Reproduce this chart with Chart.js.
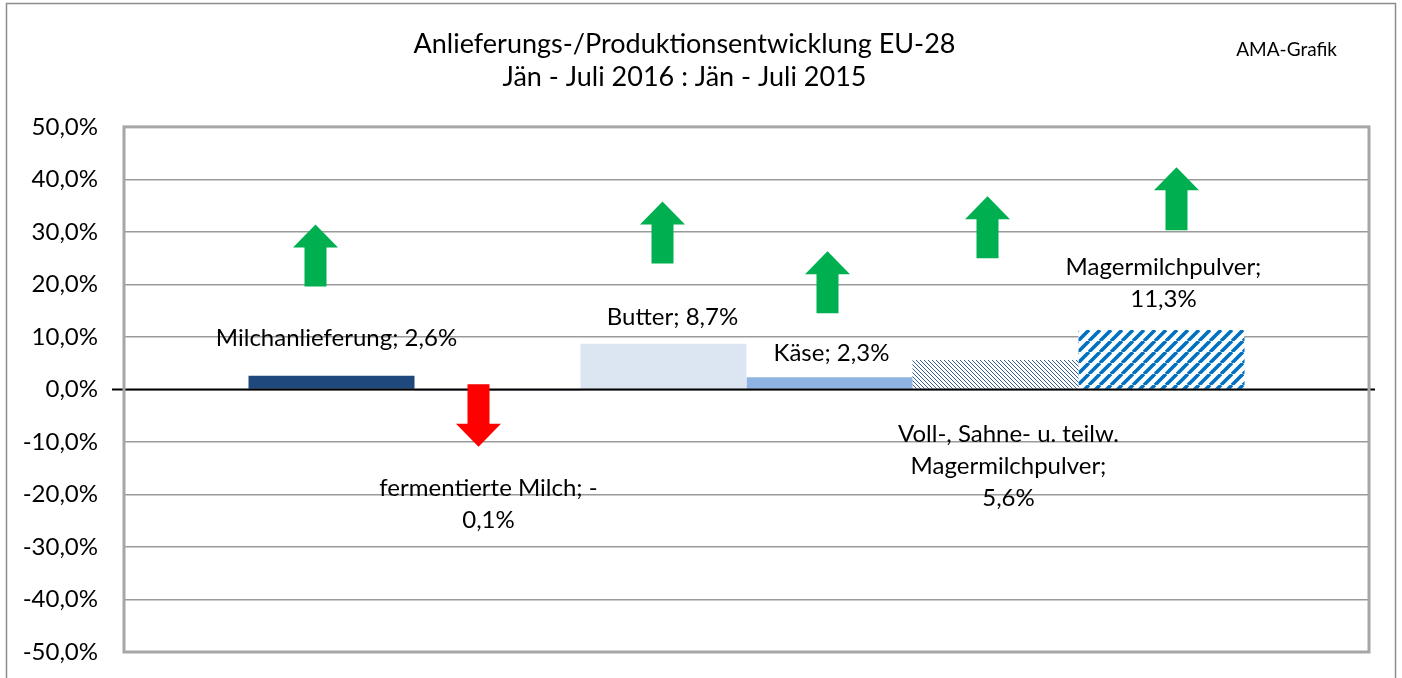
<!DOCTYPE html>
<html>
<head>
<meta charset="utf-8">
<title>Anlieferungs-/Produktionsentwicklung EU-28</title>
<script src="https://cdn.jsdelivr.net/npm/chart.js@4/dist/chart.umd.min.js"></script>
<style>
  body { margin: 0; background: #fff; }
  #wrap { width: 1402px; height: 678px; }
</style>
</head>
<body>
<div id="wrap"><canvas id="chart" width="1402" height="678"></canvas></div>
<script>
// data (Jän - Juli 2016 vs. 2015, in %)
const categories = ['Milchanlieferung', 'fermentierte Milch', 'Butter', 'Käse',
  'Voll-, Sahne- u. teilw. Magermilchpulver', 'Magermilchpulver'];
const changes = [2.6, -0.1, 8.7, 2.3, 5.6, 11.3];
const yTicks = [-50, -40, -30, -20, -10, 0, 10, 20, 30, 40, 50];
// labels as Excel wrapped them
const labelLines = [
  ['Milchanlieferung; 2,6%'],
  ['fermentierte Milch; -', '0,1%'],
  ['Butter; 8,7%'],
  ['Käse; 2,3%'],
  ['Voll-, Sahne- u. teilw.', 'Magermilchpulver;', '5,6%'],
  ['Magermilchpulver;', '11,3%']
];
// arrow shapes (from / to in % units)
const arrowFrom = [19.6, 1.0, 24.0, 14.5, 25.0, 30.3];
const arrowTo = [31.4, -10.9, 35.8, 26.3, 36.8, 42.3];

const FONT = 'Lato, "Noto Sans", sans-serif';

const ctx = document.getElementById('chart').getContext('2d');

// hatch patterns like the Excel fills
function stripes(size, color, width, dir) {
  const c = document.createElement('canvas');
  c.width = size; c.height = size;
  const x = c.getContext('2d');
  x.fillStyle = '#fff';
  x.fillRect(0, 0, size, size);
  x.strokeStyle = color;
  x.lineWidth = width;
  x.beginPath();
  for (let k = -1; k <= 1; k++) {
    if (dir === '/') {
      x.moveTo(k * size, size);
      x.lineTo(k * size + size, 0);
    } else {
      x.moveTo(k * size, 0);
      x.lineTo(k * size + size, size);
    }
  }
  x.stroke();
  return ctx.createPattern(c, 'repeat');
}

const fills = ['#1f497d', '#1f497d', '#dce6f2', '#8eb4e3',
  stripes(4, '#365f8f', 1, '\\'), stripes(11, '#0070c0', 3.6, '/')];

function fmt(v) {
  return v.toFixed(1).replace('.', ',') + '%';
}

const frame = {
  id: 'frame',
  beforeDraw(chart) {
    const c = chart.ctx;
    c.save();
    c.fillStyle = '#fff';
    c.fillRect(0, 0, chart.width, chart.height);
    c.strokeStyle = '#8c8c8c';
    c.lineWidth = 1.5;
    c.strokeRect(6.5, 3.5, chart.width - 13, chart.height + 40);
    c.restore();
  },
  afterDraw(chart) {
    const c = chart.ctx;
    const a = chart.chartArea;
    c.save();
    c.strokeStyle = '#a6a6a6';
    c.lineWidth = 3;
    c.strokeRect(a.left, a.top, a.right - a.left, a.bottom - a.top);
    c.fillStyle = '#000';
    c.font = '19px ' + FONT;
    c.textAlign = 'right';
    c.textBaseline = 'middle';
    c.fillText('AMA-Grafik', a.right - 32, 50);
    c.restore();
  }
};

// zero line, arrows and data labels
const extras = {
  id: 'extras',
  afterDatasetsDraw(chart) {
    const c = chart.ctx;
    const a = chart.chartArea;
    const y = chart.scales.y;
    const y0 = y.getPixelForValue(0);
    c.save();
    c.strokeStyle = '#000';
    c.lineWidth = 2;
    c.beginPath();
    c.moveTo(a.left - 12, y0);
    c.lineTo(a.right + 6, y0);
    c.stroke();

    const arrowDx = [-16, -19, -1, -2, -8, 15];
    const labelDx = [5, -9, 9, 2, 13, 2];
    const labelY = [9.7, -21.8, 13.7, 6.9, -14.6, 20.3];
    chart.data.datasets.forEach((ds, i) => {
      const bar = chart.getDatasetMeta(i).data[0];
      const cx = bar.x + arrowDx[i];
      const yFrom = y.getPixelForValue(arrowFrom[i]);
      const yTo = y.getPixelForValue(arrowTo[i]);
      const up = yTo < yFrom;
      const head = 23 * (up ? 1 : -1);
      c.fillStyle = arrowTo[i] > arrowFrom[i] ? '#00b050' : '#ff0000';
      c.beginPath();
      c.moveTo(cx - 11, yFrom);
      c.lineTo(cx - 11, yTo + head);
      c.lineTo(cx - 22.5, yTo + head);
      c.lineTo(cx, yTo);
      c.lineTo(cx + 22.5, yTo + head);
      c.lineTo(cx + 11, yTo + head);
      c.lineTo(cx + 11, yFrom);
      c.closePath();
      c.fill();

      const lines = labelLines[i];
      const lh = 32;
      const ly = y.getPixelForValue(labelY[i]) - (lines.length - 1) * lh / 2;
      c.fillStyle = '#000';
      c.font = '24px ' + FONT;
      c.textAlign = 'center';
      c.textBaseline = 'middle';
      lines.forEach((t, k) => c.fillText(t, bar.x + labelDx[i], ly + k * lh));
    });
    c.restore();
  }
};

new Chart(ctx, {
  type: 'bar',
  data: {
    labels: ['EU-28'],
    datasets: categories.map((cat, i) => ({
      label: cat,
      data: [changes[i]],
      backgroundColor: fills[i],
      borderWidth: 0,
      categoryPercentage: 0.8,
      barPercentage: 1
    }))
  },
  options: {
    responsive: false,
    animation: false,
    layout: { padding: { left: 0, right: 33, top: 0, bottom: 26 } },
    plugins: {
      legend: { display: false },
      tooltip: { enabled: false },
      title: {
        display: true,
        text: ['Anlieferungs-/Produktionsentwicklung EU-28', 'Jän - Juli 2016 : Jän - Juli 2015'],
        color: '#000',
        font: { family: FONT, size: 27, weight: 'normal', lineHeight: 1.22 },
        padding: { top: 28, bottom: 33 }
      }
    },
    scales: {
      x: { display: false },
      y: {
        min: -50,
        max: 50,
        afterFit(scale) { scale.width = 124; },
        afterBuildTicks(scale) { scale.ticks = yTicks.map(v => ({ value: v })); },
        border: { display: false },
        grid: { color: '#9a9a9a', lineWidth: 1.5, drawTicks: true, tickLength: 26, tickColor: 'rgba(0,0,0,0)' },
        ticks: {
          padding: 0,
          color: '#000',
          font: { family: FONT, size: 24 },
          callback: v => fmt(v)
        }
      }
    }
  },
  plugins: [frame, extras]
});
</script>
</body>
</html>
